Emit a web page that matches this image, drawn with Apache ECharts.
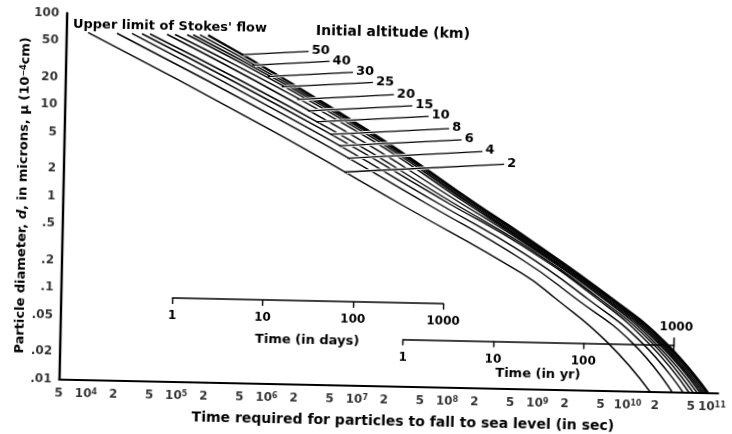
<!DOCTYPE html>
<html><head><meta charset="utf-8">
<script src="https://cdn.jsdelivr.net/npm/echarts@6/dist/echarts.min.js"></script>
<style>
html,body{margin:0;padding:0;background:#fff;overflow:hidden;}
#c{width:732px;height:434px;transform:rotate(1.2deg);transform-origin:366px 217px;background:#fff;}
</style>
</head><body><div id="c"></div>
<script>
// ---------------- data ----------------
const altitudesKm = [2, 4, 6, 8, 10, 15, 20, 25, 30, 40, 50];
// [time to fall (s), particle diameter (micron)]
const curve2km  = [[8.71e3,62],[9.04e5,6.1],[2.63e7,1],[6.31e8,0.182],[1.48e9,0.1],[5.71e9,0.034],[1.75e10,0.01]];
const curve4km  = [[1.82e4,62],[1.89e6,6.1],[5.37e7,1],[6.31e8,0.257],[2.51e9,0.1],[1.08e10,0.034],[3.08e10,0.01]];
const curve6km  = [[2.67e4,62],[2.69e6,6.1],[7.41e7,1],[6.31e8,0.309],[3.39e9,0.1],[1.39e10,0.034],[4.06e10,0.01]];
const curve8km  = [[3.45e4,62],[3.63e6,6.1],[9.77e7,1],[6.31e8,0.363],[4.37e9,0.1],[1.63e10,0.034],[4.74e10,0.01]];
const curve10km = [[4.23e4,62],[4.57e6,6.1],[1.12e8,1],[6.31e8,0.380],[4.68e9,0.1],[1.80e10,0.034],[5.25e10,0.01]];
const curve15km = [[6.53e4,62],[6.17e6,6.1],[1.35e8,1],[6.31e8,0.403],[5.13e9,0.1],[1.94e10,0.034],[5.81e10,0.01]];
const curve20km = [[8.00e4,62],[8.32e6,6.1],[1.55e8,1],[6.31e8,0.417],[5.37e9,0.1],[2.10e10,0.034],[6.28e10,0.01]];
const curve25km = [[1.09e5,62],[9.55e6,6.1],[1.66e8,1],[6.31e8,0.427],[5.62e9,0.1],[2.21e10,0.034],[6.61e10,0.01]];
const curve30km = [[1.27e5,62],[1.05e7,6.1],[1.74e8,1],[6.31e8,0.442],[5.89e9,0.1],[2.32e10,0.034],[6.95e10,0.01]];
const curve40km = [[1.51e5,62],[1.12e7,6.1],[1.84e8,1],[6.31e8,0.457],[6.17e9,0.1],[2.44e10,0.034],[7.31e10,0.01]];
const curve50km = [[1.86e5,62],[1.17e7,6.1],[1.95e8,1],[6.31e8,0.479],[6.46e9,0.1],[2.57e10,0.034],[7.69e10,0.01]];
const curves = [curve2km, curve4km, curve6km, curve8km, curve10km, curve15km, curve20km, curve25km, curve30km, curve40km, curve50km];

const xTickValues = [5e3,1e4,2e4,5e4,1e5,2e5,5e5,1e6,2e6,5e6,1e7,2e7,5e7,1e8,2e8,5e8,1e9,2e9,5e9,1e10,2e10,5e10,1e11];
const xTickLabels = ['5','10{s|4}','2','5','10{s|5}','2','5','10{s|6}','2','5','10{s|7}','2','5','10{s|8}','2','5','10{s|9}','2','5','10{s|10}','2','5','10{s|11}'];
const yTickValues = [0.01,0.02,0.05,0.1,0.2,0.5,1,2,5,10,20,50,100];
const yTickLabels = ['.01','.02','.05','.1','.2','.5','1','2','5','10','20','50','100'];
const dayTicks = [1, 10, 100, 1000];
const yearTicks = [1, 10, 100];
const yearEndTick = 1000;
const SEC_PER_DAY = 86400;
const SEC_PER_YEAR = 3.156e7;
const X_MIN = 5e3, X_MAX = 1e11, Y_MIN = 0.01, Y_MAX = 100;

// ---------------- layout ----------------
const FONT = '"DejaVu Sans", "Liberation Sans", sans-serif';
const mainGrid = {left: 62.5, right: 10.2, top: 19.5, bottom: 48.5};
// label anchor centres (px) for the altitude numbers, same order as altitudesKm
const altLabelPos = [[510.6,160.3],[488.6,148.1],[467.4,136.8],[454.8,125.8],[438.6,114.1],[422,103.8],[403.4,93.2],[382.2,81.3],[362,71.7],[338.4,61.2],[317.2,51.6]];
const leaderSlope = 0.07;

const chart = echarts.init(document.getElementById('c'), null, {renderer: 'canvas', width: 732, height: 434});
const txt = (size) => ({color: '#000', fontFamily: FONT, fontWeight: 'bold', fontSize: size});

const curveSeries = altitudesKm.map((h, i) => ({
  type: 'line', name: h + ' km', data: curves[i], xAxisIndex: 0, yAxisIndex: 0,
  symbol: 'none', showSymbol: false, smooth: 0.5, silent: true, z: 2,
  lineStyle: {color: '#000', width: h === 50 ? 2.3 : 1.4}
}));

const invisibleSymbol = {symbolSize: 1, itemStyle: {color: 'rgba(0,0,0,0)', borderWidth: 0}};
const xLabelSeries = {
  type: 'scatter', xAxisIndex: 0, yAxisIndex: 0, silent: true, clip: false, ...invisibleSymbol,
  data: xTickValues.map((v, i) => ({value: [v, Y_MIN],
    label: i === xTickValues.length - 1 ? {formatter: xTickLabels[i], offset: [-6, 0]} : {formatter: xTickLabels[i]}})),
  label: {show: true, position: 'bottom', distance: 8, ...txt(12),
    rich: {s: {...txt(8), verticalAlign: 'top'}}}
};
const yLabelSeries = {
  type: 'scatter', xAxisIndex: 0, yAxisIndex: 0, silent: true, clip: false, ...invisibleSymbol,
  data: yTickValues.map((v, i) => ({value: [X_MIN, v], label: {formatter: yTickLabels[i]}})),
  label: {show: true, position: 'left', distance: 7, ...txt(12)}
};

const hiddenAxisParts = {axisTick: {show: false}, axisLabel: {show: false}, splitLine: {show: false}, minorTick: {show: false}, minorSplitLine: {show: false}};

const option = {
  animation: false,
  grid: [mainGrid],
  xAxis: [{
    gridIndex: 0, type: 'log', min: X_MIN, max: X_MAX, ...hiddenAxisParts,
    axisLine: {show: true, onZero: false, lineStyle: {color: '#000', width: 2}},
    name: 'Time required for particles to fall to sea level (in sec)',
    nameLocation: 'middle', nameGap: 29,
    nameTextStyle: {...txt(14), padding: [0, 0, 0, 30]}
  }],
  yAxis: [{
    gridIndex: 0, type: 'log', min: Y_MIN, max: Y_MAX, ...hiddenAxisParts,
    axisLine: {show: true, onZero: false, lineStyle: {color: '#000', width: 2.4}},
    name: 'Particle diameter, {i|d}, in microns, μ (10{s|−4}cm)',
    nameLocation: 'middle', nameGap: 33,
    nameTextStyle: {...txt(13), rich: {i: {...txt(13), fontStyle: 'italic'}, s: {...txt(8), verticalAlign: 'top'}}}
  }],
  series: [...curveSeries, xLabelSeries, yLabelSeries]
};
chart.setOption(option);

// ---------- secondary time scales aligned on the main log axis ----------
const px = v => chart.convertToPixel({xAxisIndex: 0}, v);
const dL = px(dayTicks[0] * SEC_PER_DAY), dR = px(dayTicks[dayTicks.length - 1] * SEC_PER_DAY);
const yL = px(yearTicks[0] * SEC_PER_YEAR), yR = px(yearEndTick * SEC_PER_YEAR);
const secAxisBase = {
  type: 'log', splitLine: {show: false}, minorTick: {show: false}, minorSplitLine: {show: false},
  axisLine: {show: true, onZero: false, lineStyle: {color: '#000', width: 1.6}},
  axisTick: {show: true, length: 6, lineStyle: {color: '#000', width: 1.4}}
};

// leaders + altitude labels
const meas = document.createElement('canvas').getContext('2d');
meas.font = 'bold 13px "DejaVu Sans"';
const graphics = [];
altitudesKm.forEach((h, i) => {
  const [cx, cy] = altLabelPos[i];
  const w = meas.measureText(String(h)).width;
  const ax = cx - w / 2 - 3, ay = cy + 1, s = leaderSlope;
  const pts = curves[i].map(p => chart.convertToPixel({seriesIndex: i}, p));
  let hit = null;
  for (let k = 0; k < pts.length - 1 && !hit; k++) {
    const P = pts[k], Q = pts[k + 1];
    const dx = Q[0] - P[0], dy = Q[1] - P[1];
    const det = dy + s * dx;
    if (Math.abs(det) < 1e-9) continue;
    const bx = P[0] - ax, by = P[1] - ay;
    const t = (-bx * dy + dx * by) / det;
    const r = (-by - bx * s) / det;
    if (t > 0 && r >= 0 && r <= 1) hit = [ax - t, ay + s * t];
  }
  if (hit) {
    const L = Math.hypot(ax - hit[0], ay - hit[1]);
    const ux = (ax - hit[0]) / L, uy = (ay - hit[1]) / L;
    graphics.push({type: 'line', z: 50, silent: true,
      shape: {x1: hit[0] + ux * 2.5, y1: hit[1] + uy * 2.5, x2: ax, y2: ay},
      style: {stroke: '#fff', lineWidth: 3.2}});
    graphics.push({type: 'line', z: 51, silent: true,
      shape: {x1: hit[0], y1: hit[1], x2: ax, y2: ay},
      style: {stroke: '#000', lineWidth: 1.3}});
  }
  graphics.push({type: 'text', z: 52, silent: true, x: cx, y: cy,
    style: {text: String(h), font: 'bold 13px ' + FONT, fill: '#000',
      align: 'center', verticalAlign: 'middle', textAlign: 'center', textVerticalAlign: 'middle'}});
});
const addText = (text, x, y, size) => graphics.push({type: 'text', z: 52, silent: true, x, y,
  style: {text, font: 'bold ' + size + 'px ' + FONT, fill: '#000',
    align: 'center', verticalAlign: 'middle', textAlign: 'center', textVerticalAlign: 'middle'}});
addText("Upper limit of Stokes' flow", 166, 30.6, 13);
addText('Initial altitude (km)', 389, 32.4, 14);
// 1000-yr end tick (points up) and its label
graphics.push({type: 'line', z: 52, silent: true, shape: {x1: yR, y1: 339.5, x2: yR, y2: 331},
  style: {stroke: '#000', lineWidth: 1.5}});
addText(String(yearEndTick), yR + 2, 321, 12);

chart.setOption({
  grid: [mainGrid,
    {left: dL, width: dR - dL, top: 300, height: 2},
    {left: yL, width: yR - yL, top: 337.5, height: 1}],
  xAxis: [option.xAxis[0],
    {...secAxisBase, gridIndex: 1, min: dayTicks[0], max: dayTicks[dayTicks.length - 1], position: 'bottom',
      axisLabel: {show: true, margin: 12, ...txt(12), formatter: v => String(Math.round(v))},
      name: 'Time (in days)', nameLocation: 'middle', nameGap: 33, nameTextStyle: txt(13)},
    {...secAxisBase, gridIndex: 2, min: yearTicks[0], max: yearEndTick, position: 'bottom',
      axisLabel: {show: true, margin: 12, ...txt(12),
        formatter: v => (yearTicks.indexOf(Math.round(v)) >= 0 ? String(Math.round(v)) : '')},
      name: 'Time (in yr)', nameLocation: 'middle', nameGap: 26, nameTextStyle: txt(13)}],
  yAxis: [option.yAxis[0],
    {gridIndex: 1, type: 'value', show: false},
    {gridIndex: 2, type: 'value', show: false}],
  graphic: {elements: graphics}
});
</script>
</body></html>
